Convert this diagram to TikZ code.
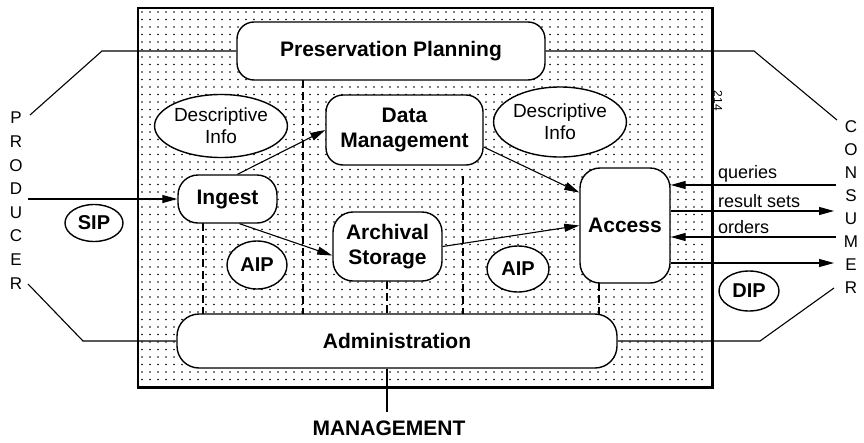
\documentclass[tikz,border=0pt]{standalone}
\usepackage{fontspec}
\setmainfont{Liberation Sans}
\usetikzlibrary{arrows.meta,shapes.geometric}
\tikzset{
  funcbox/.style={draw=black, line width=1.4pt, fill=white, rounded corners=17pt, inner sep=0pt, align=center, font=\fontsize{21}{25}\selectfont\bfseries},
  infoell/.style={draw=black, line width=1.4pt, fill=white, ellipse, inner sep=0pt, align=center, font=\fontsize{19}{22}\selectfont},
  pkgell/.style={draw=black, line width=1.4pt, fill=white, ellipse, inner sep=0pt, font=\fontsize{20}{24}\selectfont\bfseries},
  conn/.style={draw=black, line width=1.1pt},
  arr/.style={conn, -{Triangle[length=15pt,width=8pt]}},
  dashline/.style={draw=black, line width=1.1pt, dash pattern=on 8pt off 4pt},
  letter/.style={font=\fontsize{17}{17}\selectfont, inner sep=0pt},
  flowlbl/.style={font=\fontsize{18}{18}\selectfont, inner sep=0pt, anchor=south west},
}
\begin{document}
\begin{tikzpicture}[x=1pt,y=-1pt]
\useasboundingbox (0,0) rectangle (864,442);
% background dotted frame
\node[draw=black, line width=1.5pt, minimum width=574pt, minimum height=379pt, inner sep=0pt] (frame) at (425,197.5) {};
\foreach \i in {0,...,70} {
  \foreach \j in {0,...,49} {
    \fill (142+8*\i, 12+7.5*\j) circle (0.85);
  }
}
\draw[line width=1.5pt] (frame.north west) rectangle (frame.south east);

% dashed separators
\coordinate (d1t) at (303,80);
\coordinate (d1b) at (303,314);
\coordinate (d2t) at (203,223);
\coordinate (d2b) at (203,314);
\coordinate (d3t) at (463,176);
\coordinate (d3b) at (463,314);
\coordinate (d4t) at (387,281);
\coordinate (d4b) at (387,314);
\coordinate (d5t) at (599,283);
\coordinate (d5b) at (599,314);
\draw[dashline] (d1t) -- (d1b);
\draw[dashline] (d2t) -- (d2b);
\draw[dashline] (d3t) -- (d3b);
\draw[dashline] (d4t) -- (d4b);
\draw[dashline] (d5t) -- (d5b);

% functional boxes
\node[funcbox, minimum width=308pt, minimum height=58pt] (pp) at (391,51) {Preservation Planning};
\node[funcbox, minimum width=157pt, minimum height=70pt] (dm) at (404.5,130) {Data\\Management};
\node[funcbox, minimum width=99pt, minimum height=48pt, rounded corners=20pt] (ing) at (227.5,199) {Ingest};
\node[funcbox, minimum width=109pt, minimum height=69pt, rounded corners=20pt] (arch) at (387.5,246.5) {Archival\\Storage};
\node[funcbox, minimum width=90pt, minimum height=115pt, rounded corners=20pt] (acc) at (625,225.5) {Access};
\node[funcbox, minimum width=440pt, minimum height=54pt, rounded corners=22pt] (adm) at (397,341) {Administration};

% ellipses
\node[infoell, minimum width=123pt, minimum height=63pt] (di1) at (221,126) {Descriptive\\Info};
\node[infoell, minimum width=125pt, minimum height=70pt] (di2) at (560,122) {Descriptive\\Info};
\node[pkgell, minimum width=58pt, minimum height=37pt] (sip) at (94,223) {SIP};
\node[pkgell, minimum width=60pt, minimum height=48pt] (aip1) at (257,265) {AIP};
\node[pkgell, minimum width=62pt, minimum height=46pt] (aip2) at (518,269) {AIP};
\node[pkgell, minimum width=60pt, minimum height=40pt] (dip) at (749,291) {DIP};

% internal flows
\draw[arr] ([xshift=10pt]ing.north) -- (dm.west);
\draw[arr] ([xshift=12pt]ing.south) -- ([yshift=-9pt]arch.west);
\draw[arr] ([yshift=-17pt]dm.east) -- ([yshift=33pt]acc.west);
\draw[arr] (arch.east) -- (acc.west);

% producer side
\coordinate (plA) at (102,51);
\coordinate (plB) at (30,115);
\draw[conn] (pp.west) -- (plA) -- (plB);
\coordinate (pin) at (28,199);
\draw[arr] (pin) -- (ing.west);
\coordinate (alA) at (83,341);
\coordinate (alB) at (28,284);
\draw[conn] (adm.west) -- (alA) -- (alB);

% consumer side
\coordinate (prA) at (754,51);
\coordinate (prB) at (837,120);
\draw[conn] (pp.east) -- (prA) -- (prB);
\coordinate (arA) at (760,341);
\coordinate (arB) at (834,288);
\draw[conn] (adm.east) -- (arA) -- (arB);

\coordinate (q1) at (836,185);
\coordinate (q2) at (834,211);
\coordinate (q3) at (836,237);
\coordinate (q4) at (834,263);
\draw[arr] (q1) -- (q1 -| acc.east);
\draw[arr] (q2 -| acc.east) -- (q2);
\draw[arr] (q3) -- (q3 -| acc.east);
\draw[arr] (q4 -| acc.east) -- (q4);
\node[flowlbl] (lq) at (718,182) {queries};
\node[flowlbl] (lr) at (718,208) {result sets};
\node[flowlbl] (lo) at (718,234) {orders};

% management
\coordinate (mg) at (387,412);
\draw[conn] ([xshift=-10pt]adm.south) -- (mg);
\node[font=\fontsize{21}{21}\selectfont\bfseries, anchor=north, inner sep=0pt] (mgt) at (389,421) {MANAGEMENT};

% producer letters
\foreach \c [count=\k from 0] in {P,R,O,D,U,C,E,R} {
  \node[letter] (prod\k) at (16, 118+23.6*\k) {\c};
}
% consumer letters
\foreach \c [count=\k from 0] in {C,O,N,S,U,M,E,R} {
  \node[letter] (cons\k) at (851, 127+23*\k) {\c};
}

% page mark
\node[rotate=-90, font=\fontsize{12}{12}\selectfont, inner sep=0pt] (pg) at (718,101) {214};
\end{tikzpicture}
\end{document}
